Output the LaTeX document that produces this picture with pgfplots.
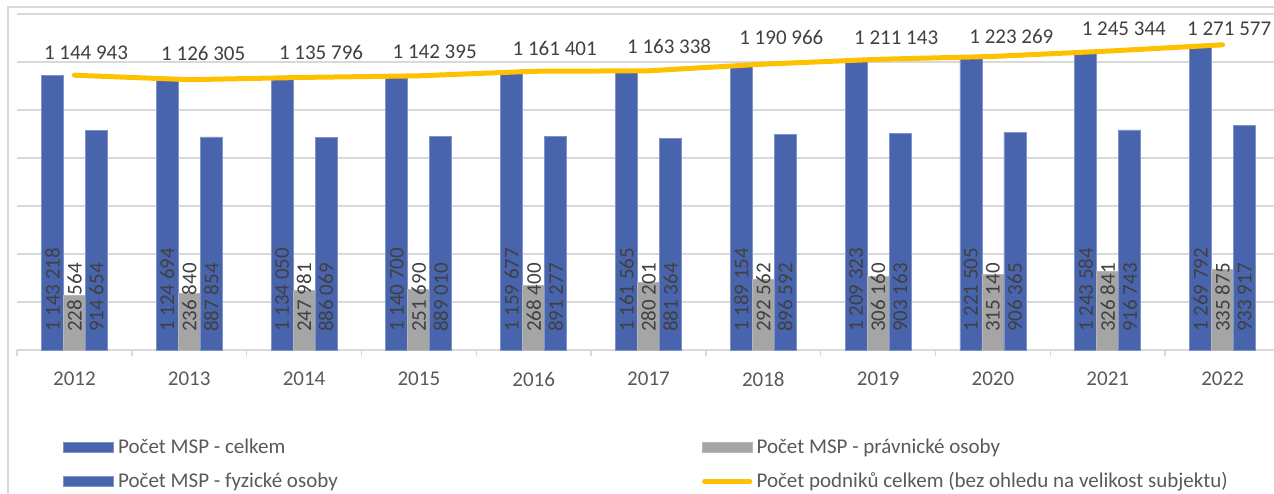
\documentclass[border=0pt]{standalone}
\usepackage{pgfplots}
\pgfplotsset{compat=1.18}
\usepackage{pgfplotstable}
\usepackage{fontspec}
\setmainfont{Carlito}
\definecolor{mblue}{HTML}{4864AC}
\definecolor{medge}{HTML}{7D93C9}
\definecolor{mgray}{HTML}{A5A5A5}
\definecolor{myellow}{HTML}{FFC000}
\definecolor{gridc}{HTML}{D9D9D9}
\definecolor{txt}{HTML}{595959}
\definecolor{lbl}{HTML}{404040}
\newcommand\f{\fontsize{10.5}{12.6}\selectfont}

\pgfplotstableread{
x c p f t dx dy
0 1143218 228564 914654 1144943 5.8 11
1 1124694 236840 887854 1126305 7 12.9
2 1134050 247981 886069 1135796 8.5 12.5
3 1140700 251690 889010 1142395 7.9 12.2
4 1159677 268400 891277 1161401 10.5 11.5
5 1161565 280201 881364 1163338 10.3 12
6 1189154 292562 896592 1190966 9 13.5
7 1209323 306160 903163 1211143 9 11
8 1221505 315140 906365 1223269 9.2 9.9
9 1243584 326841 916743 1245344 8 11.3
10 1269792 335875 933917 1271577 3.3 8
}\data

\pgfplotsset{
  barlegend/.style={legend image code/.code={\fill[##1] (0pt,-2.5pt) rectangle (25pt,2.5pt);}},
  linelegend/.style={legend image code/.code={\draw[##1] (1.2pt,0pt) -- (23.8pt,0pt);}},
  barlbl/.style={draw=none, mark=none, forget plot,
    point meta=explicit symbolic,
    nodes near coords={\pgfmathprintnumber[fixed,precision=0,1000 sep={\ },assume math mode=true]{\pgfplotspointmeta}},
    nodes near coords align={anchor=west},
    every node near coord/.append style={xshift=#1, yshift=5.5pt, rotate=90, anchor=west, font=\f, text=lbl}},
}

\begin{document}
\begin{tikzpicture}
\useasboundingbox (0,0) rectangle (637pt,246.5pt);
\clip (0,0) rectangle (637pt,246.5pt);
\draw[gridc, line width=0.75pt] (4pt,-5pt) -- (4pt,243pt) -- (650pt,243pt);
\begin{axis}[
  at={(8.5pt,71.5pt)}, anchor=south west,
  scale only axis, width=631.5pt, height=168pt,
  xmin=-0.5, xmax=10.5, ymin=0, ymax=1400000,
  clip=false,
  axis x line*=bottom, axis y line*=left,
  x axis line style={gridc, line width=0.75pt},
  y axis line style={draw=none},
  ytick={0,200000,400000,600000,800000,1000000,1200000,1400000},
  yticklabels={}, scaled y ticks=false,
  ymajorgrids, grid style={gridc, line width=0.75pt},
  major tick length=0pt,
  tick style={gridc, line width=0.75pt},
  xtick={0,1,2,3,4,5,6,7,8,9,10},
  xticklabels={2012,2013,2014,2015,2016,2017,2018,2019,2020,2021,2022},
  xticklabel style={font=\f, text=txt, yshift=-7.5pt},
  extra x ticks={-0.5,0.5,1.5,2.5,3.5,4.5,5.5,6.5,7.5,8.5,9.5,10.5},
  extra x tick labels={},
  extra x tick style={major tick length=3pt, tick align=outside},
  legend columns=2,
  legend cell align=left,
  legend style={draw=none, fill=none, inner sep=0pt,
    at={(axis description cs:0.0364,-0.3408)}, anchor=west,
    font=\f, text=txt, row sep=4pt,
    /tikz/every even column/.append style={column sep=180pt}},
]
\addplot[ybar, bar width=11pt, bar shift=-11pt, fill=mblue, draw=medge, line width=0.4pt, barlegend]
  table[x=x, y=c]{\data};
\addlegendentry{Počet MSP - celkem}
\addplot[ybar, bar width=11pt, bar shift=0pt, fill=mgray, draw=mgray!80!white, line width=0.4pt, barlegend]
  table[x=x, y=p]{\data};
\addlegendentry{Počet MSP - právnické osoby}
\addplot[ybar, bar width=11pt, bar shift=11pt, fill=mblue, draw=medge, line width=0.4pt, barlegend]
  table[x=x, y=f]{\data};
\addlegendentry{Počet MSP - fyzické osoby}
\addplot[myellow, line width=2.5pt, line cap=round, line join=round, mark=none, linelegend]
  table[x=x, y=t]{\data};
\addlegendentry{Počet podniků celkem (bez ohledu na velikost subjektu)}

\addplot[barlbl=-11pt] table[x=x, y expr=0, meta=c]{\data};
\addplot[barlbl=0pt] table[x=x, y expr=0, meta=p]{\data};
\addplot[barlbl=11pt] table[x=x, y expr=0, meta=f]{\data};

\addplot[draw=none, mark=none, forget plot,
  point meta=explicit symbolic,
  visualization depends on={\thisrow{dx}\as\dx},
  visualization depends on={\thisrow{dy}\as\dy},
  nodes near coords={\pgfmathprintnumber[fixed,precision=0,1000 sep={\ },assume math mode=true]{\pgfplotspointmeta}},
  nodes near coords align={anchor=center},
  every node near coord/.append style={anchor=center, xshift=\dx pt, yshift=\dy pt, font=\f, text=lbl}]
  table[x=x, y=t, meta=t]{\data};
\end{axis}
\end{tikzpicture}
\end{document}
